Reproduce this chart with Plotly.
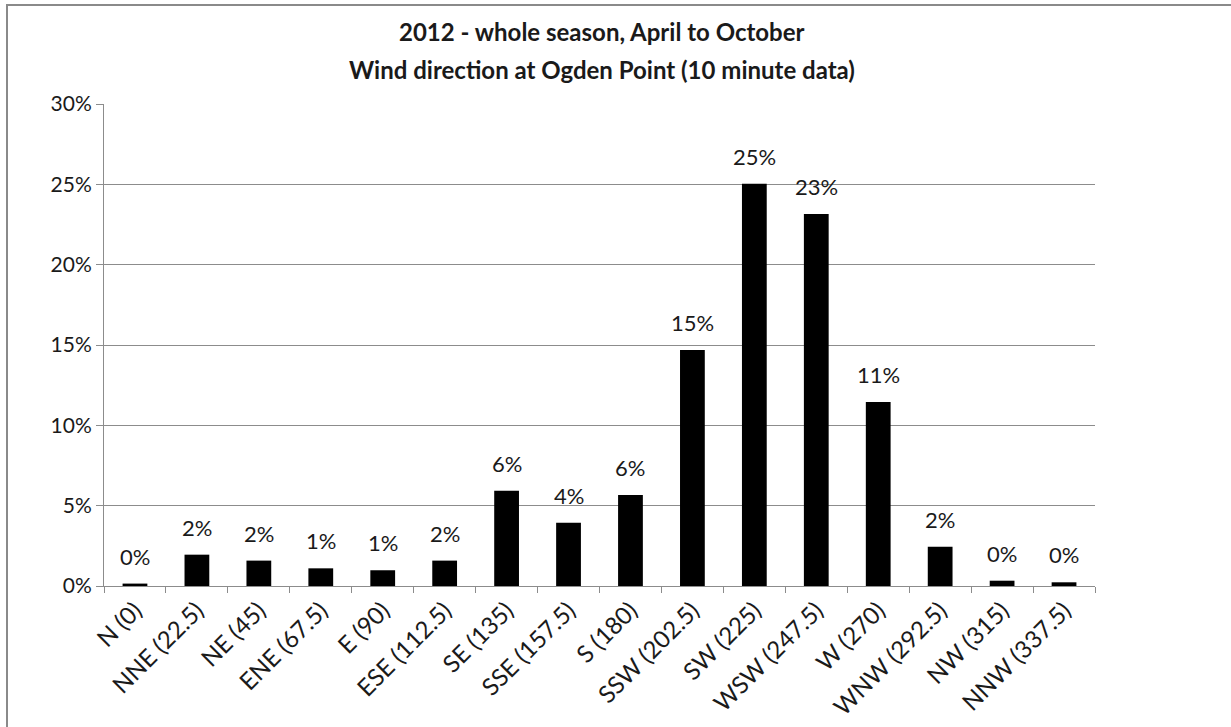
import plotly.graph_objects as go

# Wind direction sectors and share of 10-minute observations (percent)
directions = ["N (0)", "NNE (22.5)", "NE (45)", "ENE (67.5)", "E (90)", "ESE (112.5)",
              "SE (135)", "SSE (157.5)", "S (180)", "SSW (202.5)", "SW (225)",
              "WSW (247.5)", "W (270)", "WNW (292.5)", "NW (315)", "NNW (337.5)"]
share_pct = [0.15, 1.95, 1.58, 1.1, 0.98, 1.58, 5.93, 3.94, 5.66, 14.69, 25.03,
             23.15, 11.45, 2.45, 0.33, 0.23]
y_ticks = [0, 5, 10, 15, 20, 25, 30]
title_lines = ["2012 - whole season, April to October",
               "Wind direction at Ogden Point (10 minute data)"]

FONT = "Lato, Carlito, Calibri, sans-serif"
TEXT = "#1a1a1a"
GRID = "#8c8c8c"

W, H = 1231, 727
L, R, T, B = 104, 136, 104, 141
pw, ph = W - L - R, H - T - B
fx = lambda px: (px - L) / pw
fy = lambda py: (H - B - py) / ph

fig = go.Figure(
    go.Bar(
        x=directions,
        y=share_pct,
        marker=dict(color="black", line=dict(width=0)),
        hoverinfo="x+y",
    )
)

# Percentage labels above each bar
for d, v in zip(directions, share_pct):
    fig.add_annotation(
        x=d, y=v, text=f"{round(v):.0f}%", showarrow=False,
        yanchor="bottom", yshift=12,
        font=dict(family=FONT, size=22, color=TEXT),
    )

# Two-line chart title
for line, ypx in zip(title_lines, [31, 69]):
    fig.add_annotation(
        xref="paper", yref="paper", x=fx(602), y=fy(ypx),
        xanchor="center", yanchor="middle", showarrow=False,
        text=f"<b>{line}</b>",
        font=dict(family=FONT, size=24, color=TEXT),
    )

# Chart frame (top and left edges)
fig.add_shape(
    type="path", xref="paper", yref="paper",
    path=f"M {fx(7)} {fy(740)} L {fx(7)} {fy(5)} L {fx(1240)} {fy(5)}",
    line=dict(color="#8a8a8a", width=2),
)

fig.update_layout(
    width=W, height=H,
    margin=dict(l=L, r=R, t=T, b=B),
    paper_bgcolor="white", plot_bgcolor="white",
    showlegend=False,
    bargap=0.6,
    font=dict(family=FONT, color=TEXT),
    xaxis=dict(
        type="category",
        automargin=False,
        tickangle=-45,
        tickfont=dict(family=FONT, size=24, color=TEXT),
        showline=True, linecolor=GRID, linewidth=1,
        ticks="outside", ticklen=6, tickcolor=GRID, tickson="boundaries",
        showgrid=False,
    ),
    yaxis=dict(
        range=[0, 30],
        automargin=False,
        tickvals=y_ticks,
        ticktext=[f"{t}%" for t in y_ticks],
        tickfont=dict(family=FONT, size=21, color=TEXT),
        showline=True, linecolor=GRID, linewidth=1,
        ticks="outside", ticklen=7, tickcolor=GRID,
        showgrid=True, gridcolor=GRID, gridwidth=1,
        zeroline=False,
    ),
)

fig.write_html("out.html")
